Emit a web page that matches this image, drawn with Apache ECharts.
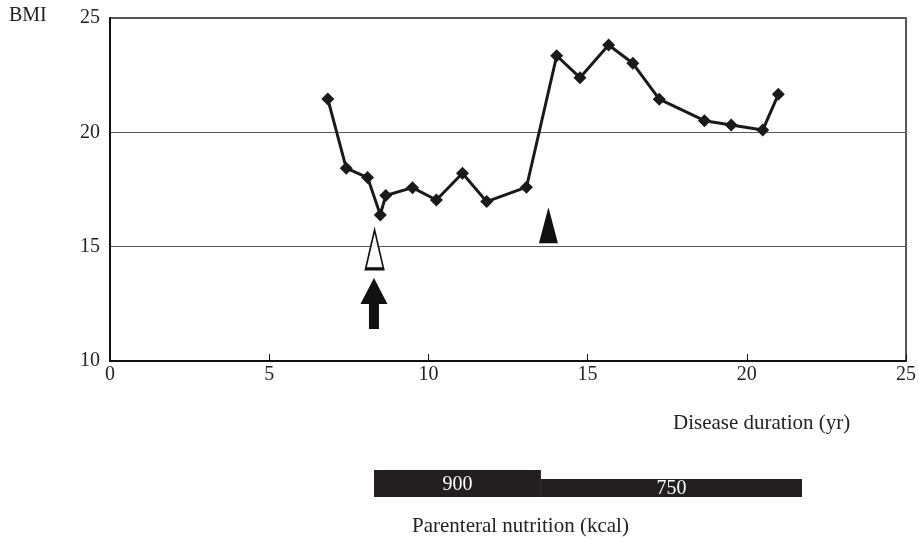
<!DOCTYPE html>
<html>
<head>
<meta charset="utf-8">
<script src="https://cdn.jsdelivr.net/npm/echarts@6/dist/echarts.min.js"></script>
<style>html,body{margin:0;padding:0;background:#fff}#c{width:919px;height:542px}</style>
</head>
<body>
<div id="c"></div>
<script>
// Data
var years = [6.84, 7.42, 8.09, 8.49, 8.66, 9.50, 10.25, 11.07, 11.83, 13.08, 14.03, 14.76, 15.66, 16.42, 17.25, 18.67, 19.51, 20.50, 20.99];
var bmi   = [21.46, 18.43, 18.02, 16.39, 17.24, 17.58, 17.04, 18.21, 16.97, 17.60, 23.35, 22.39, 23.82, 23.02, 21.45, 20.51, 20.32, 20.10, 21.66];
var xTicks = [0, 5, 10, 15, 20, 25];
var yTicks = [10, 15, 20, 25];
// Parenteral nutrition periods: [start yr, end yr, kcal]
var nutritionStart = [8.27, 13.50];
var nutritionEnd   = [13.50, 21.68];
var nutritionKcal  = [900, 750];
// Event markers [yr, BMI-level]
var openTriangle = [8.31, 14.88];
var filledTriangle = [13.77, 15.94];
var arrowMark = [8.29, 12.52];

var FONT = 'Liberation Serif';
var TXT = '#222';

var lineData = years.map(function (x, i) { return [x, bmi[i]]; });
var nutritionData = nutritionStart.map(function (s, i) { return [s, nutritionEnd[i], nutritionKcal[i]]; });

var chart = echarts.init(document.getElementById('c'), null, {renderer: 'canvas'});
chart.setOption({
  animation: false,
  backgroundColor: '#fff',
  grid: [
    {left: 110, right: 11, top: 18, bottom: 181, show: true, borderColor: '#222', borderWidth: 1.5, backgroundColor: 'transparent'},
    {left: 110, right: 11, top: 470, height: 27}
  ],
  xAxis: [
    {
      type: 'value', gridIndex: 0, min: xTicks[0], max: xTicks[xTicks.length - 1], interval: 5,
      axisLine: {lineStyle: {color: '#111', width: 2}},
      axisTick: {show: true, inside: true, length: 7, lineStyle: {color: '#111', width: 1}},
      axisLabel: {color: TXT, fontFamily: FONT, fontSize: 20, margin: 4},
      splitLine: {show: false}
    },
    {
      type: 'value', gridIndex: 1, min: xTicks[0], max: xTicks[xTicks.length - 1],
      show: false
    }
  ],
  yAxis: [
    {
      type: 'value', gridIndex: 0, min: yTicks[0], max: yTicks[yTicks.length - 1], interval: 5,
      axisLine: {show: true, lineStyle: {color: '#111', width: 2}},
      axisTick: {show: false},
      axisLabel: {color: TXT, fontFamily: FONT, fontSize: 20, margin: 10},
      splitLine: {show: true, lineStyle: {color: '#555', width: 1}}
    },
    {
      type: 'value', gridIndex: 1, min: 450, max: 900, show: false
    }
  ],
  graphic: [
    {type: 'text', left: 9, top: 6, style: {text: 'BMI', fill: TXT, font: '20px "' + FONT + '"'}},
    {type: 'text', left: 673, top: 413, style: {text: 'Disease duration (yr)', fill: TXT, font: '21px "' + FONT + '"'}},
    {type: 'text', left: 412, top: 516, style: {text: 'Parenteral nutrition (kcal)', fill: TXT, font: '21px "' + FONT + '"'}}
  ],
  series: [
    {
      type: 'line', xAxisIndex: 0, yAxisIndex: 0, data: lineData,
      symbol: 'diamond', symbolSize: 13,
      lineStyle: {color: '#1a1a1a', width: 3},
      itemStyle: {color: '#1a1a1a'},
      z: 5
    },
    {
      type: 'scatter', xAxisIndex: 0, yAxisIndex: 0, data: [openTriangle],
      symbol: 'triangle', symbolSize: [18, 39],
      itemStyle: {color: '#fff', borderColor: '#111', borderWidth: 2.2, opacity: 1},
      z: 4
    },
    {
      type: 'scatter', xAxisIndex: 0, yAxisIndex: 0, data: [filledTriangle],
      symbol: 'triangle', symbolSize: [19, 36],
      itemStyle: {color: '#111', opacity: 1},
      z: 4
    },
    {
      type: 'scatter', xAxisIndex: 0, yAxisIndex: 0, data: [arrowMark],
      symbol: 'path://M13.5,0 L27,26 L18.5,26 L18.5,51 L8.5,51 L8.5,26 L0,26 Z',
      symbolSize: [27, 51], symbolKeepAspect: false,
      itemStyle: {color: '#111', opacity: 1},
      z: 4
    },
    {
      type: 'custom', xAxisIndex: 1, yAxisIndex: 1, data: nutritionData,
      renderItem: function (params, api) {
        var p0 = api.coord([api.value(0), api.value(2)]);
        var p1 = api.coord([api.value(1), 450]);
        var x = p0[0], y = p0[1], w = p1[0] - p0[0], h = p1[1] - p0[1];
        return {
          type: 'group',
          children: [
            {type: 'rect', shape: {x: x, y: y, width: w, height: h}, style: {fill: '#231f20'}},
            {type: 'text', style: {text: String(api.value(2)), x: x + w / 2, y: y + h / 2 + 1, align: 'center', verticalAlign: 'middle', fill: '#fff', font: '20px "' + FONT + '"'}}
          ]
        };
      }
    }
  ]
});
</script>
</body>
</html>
